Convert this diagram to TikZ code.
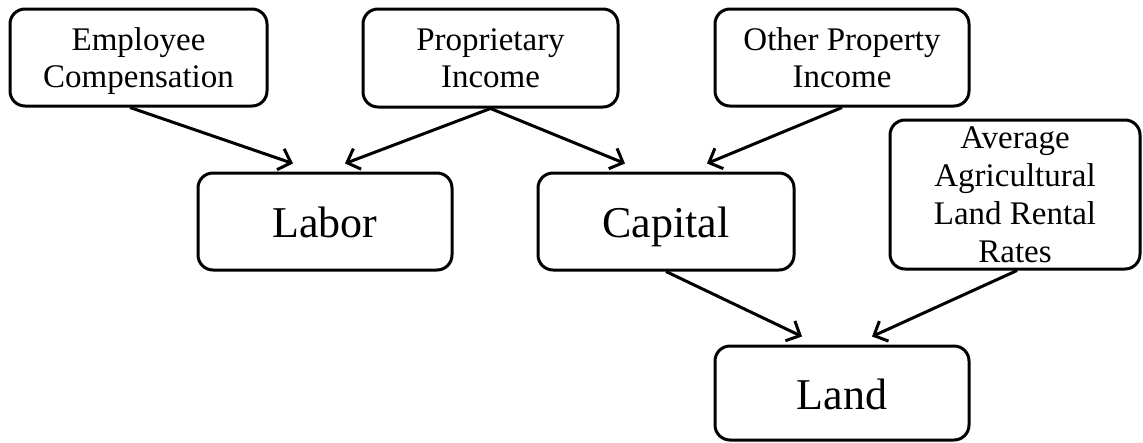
\documentclass[tikz,border=0pt]{standalone}
\usepackage{fontspec}
\setmainfont{Liberation Serif}
\usetikzlibrary{arrows.meta}
\begin{document}
\begin{tikzpicture}[x=1pt,y=-1pt,
  box/.style={draw, line width=3pt, rounded corners=15pt, inner sep=0pt, align=center},
  smalltext/.style={font=\fontsize{33}{37}\selectfont, text depth=0pt},
  bigtext/.style={font=\fontsize{44}{50}\selectfont, text height=41pt, text depth=9pt},
  conn/.style={line width=3pt, -{Straight Barb[length=11pt,width=22pt]}}]
\useasboundingbox (0,0) rectangle (1143,442);
\node[box,smalltext,minimum width=257pt,minimum height=97pt] (emp) at (138.5,57.5) {Employee\\Compensation};
\node[box,smalltext,minimum width=255pt,minimum height=98pt] (prop) at (490.5,58) {Proprietary\\Income};
\node[box,smalltext,minimum width=254pt,minimum height=97pt] (other) at (842,57.5) {Other Property\\Income};
\node[box,bigtext,minimum width=254pt,minimum height=97pt] (labor) at (325,221.5) {Labor};
\node[box,bigtext,minimum width=256pt,minimum height=97pt] (capital) at (666,221.5) {Capital};
\node[box,smalltext,font=\fontsize{33}{38}\selectfont,minimum width=250pt,minimum height=149pt] (avg) at (1015,194.5) {Average\\Agricultural\\Land Rental\\Rates};
\node[box,bigtext,minimum width=254pt,minimum height=94pt] (land) at (842,393) {Land};
\draw[conn] ([xshift=-8.5pt]emp.south) -- ([xshift=-32pt,yshift=8pt]labor.north);
\draw[conn] (prop.south) -- ([xshift=20pt,yshift=8pt]labor.north);
\draw[conn] (prop.south) -- ([xshift=-41pt,yshift=8pt]capital.north);
\draw[conn] (other.south) -- ([xshift=41pt,yshift=8pt]capital.north);
\draw[conn] (capital.south) -- ([xshift=-40pt,yshift=8pt]land.north);
\draw[conn] ([xshift=2pt]avg.south) -- ([xshift=30pt,yshift=8pt]land.north);
\end{tikzpicture}
\end{document}
